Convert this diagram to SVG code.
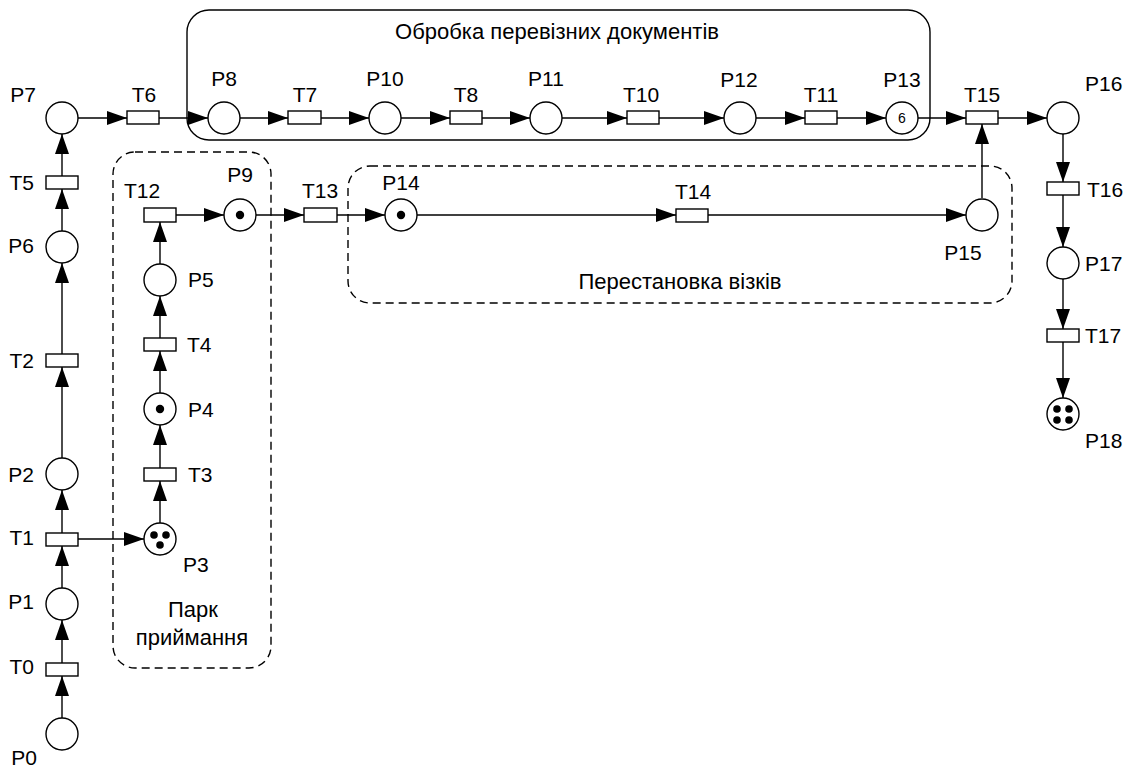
<svg xmlns="http://www.w3.org/2000/svg" width="1130" height="769" viewBox="0 0 1130 769">
<defs>
<marker id="ah" markerWidth="20" markerHeight="14" refX="20" refY="7" orient="auto" markerUnits="userSpaceOnUse">
<path d="M0,0 L20,7 L0,14 Z" fill="#000"/>
</marker>
</defs>
<style>
.pl{fill:#fff;stroke:#000;stroke-width:1.4}
.tr{fill:#fff;stroke:#000;stroke-width:1.4}
.tk{fill:#000}
.e{stroke:#000;stroke-width:1.4;fill:none;marker-end:url(#ah)}
.bx{fill:none;stroke:#000;stroke-width:1.4}
.dbx{fill:none;stroke:#000;stroke-width:1.4;stroke-dasharray:8 5}
text{font-family:"Liberation Sans",Arial,sans-serif;font-size:21px;fill:#000}
.big{font-size:22px}
.m{text-anchor:middle}
.r{text-anchor:end}
</style>
<rect width="1130" height="769" fill="#fff"/>
<g id="groups">
<rect id="box-docs" class="bx" x="187" y="10" width="743" height="130" rx="22"/>
<text class="m big" x="557" y="39">Обробка перевізних документів</text>
<rect id="box-park" class="dbx" x="113" y="152" width="158" height="516" rx="22"/>
<text class="m big" x="193" y="617">Парк</text>
<text class="m big" x="192" y="645">приймання</text>
<rect id="box-swap" class="dbx" x="348" y="166" width="664" height="137" rx="22"/>
<text class="m big" x="680" y="289">Перестановка візків</text>
</g>
<g id="connectors">
<line class="e" x1="62" y1="718" x2="62" y2="676"/>
<line class="e" x1="62" y1="663" x2="62" y2="620"/>
<line class="e" x1="62" y1="588" x2="62" y2="546"/>
<line class="e" x1="62" y1="533" x2="62" y2="490"/>
<line class="e" x1="78" y1="539" x2="144" y2="539"/>
<line class="e" x1="62" y1="458" x2="62" y2="367"/>
<line class="e" x1="62" y1="354" x2="62" y2="263"/>
<line class="e" x1="62" y1="231" x2="62" y2="189"/>
<line class="e" x1="62" y1="176" x2="62" y2="134"/>
<line class="e" x1="78" y1="118" x2="127" y2="118"/>
<line class="e" x1="159" y1="118" x2="208" y2="118"/>
<line class="e" x1="240" y1="118" x2="288" y2="118"/>
<line class="e" x1="321" y1="118" x2="369" y2="118"/>
<line class="e" x1="401" y1="118" x2="450" y2="118"/>
<line class="e" x1="482" y1="118" x2="530" y2="118"/>
<line class="e" x1="562" y1="118" x2="627" y2="118"/>
<line class="e" x1="659" y1="118" x2="724" y2="118"/>
<line class="e" x1="756" y1="118" x2="805" y2="118"/>
<line class="e" x1="837" y1="118" x2="886" y2="118"/>
<line class="e" x1="918" y1="118" x2="966" y2="118"/>
<line class="e" x1="998" y1="118" x2="1047" y2="118"/>
<line class="e" x1="982" y1="198" x2="982" y2="124"/>
<line class="e" x1="160" y1="523" x2="160" y2="481"/>
<line class="e" x1="160" y1="468" x2="160" y2="425"/>
<line class="e" x1="160" y1="393" x2="160" y2="351"/>
<line class="e" x1="160" y1="338" x2="160" y2="296"/>
<line class="e" x1="160" y1="264" x2="160" y2="222"/>
<line class="e" x1="176" y1="215" x2="224" y2="215"/>
<line class="e" x1="256" y1="215" x2="304" y2="215"/>
<line class="e" x1="337" y1="215" x2="385" y2="215"/>
<line class="e" x1="417" y1="215" x2="676" y2="215"/>
<line class="e" x1="708" y1="215" x2="966" y2="215"/>
<line class="e" x1="1063" y1="134" x2="1063" y2="182"/>
<line class="e" x1="1063" y1="195" x2="1063" y2="247"/>
<line class="e" x1="1063" y1="279" x2="1063" y2="329"/>
<line class="e" x1="1063" y1="342" x2="1063" y2="398"/>
</g>
<g id="P0"><circle class="pl" cx="62" cy="734" r="16"/><text class="r" x="37" y="765">P0</text></g>
<g id="T0"><rect class="tr" x="46" y="663" width="32" height="13"/><text class="r" x="34" y="674">T0</text></g>
<g id="P1"><circle class="pl" cx="62" cy="604" r="16"/><text class="r" x="34" y="609">P1</text></g>
<g id="T1"><rect class="tr" x="46" y="533" width="32" height="13"/><text class="r" x="34" y="545">T1</text></g>
<g id="P2"><circle class="pl" cx="62" cy="474" r="16"/><text class="r" x="34" y="482">P2</text></g>
<g id="T2"><rect class="tr" x="46" y="354" width="32" height="13"/><text class="r" x="34" y="368">T2</text></g>
<g id="P6"><circle class="pl" cx="62" cy="247" r="16"/><text class="r" x="34" y="253">P6</text></g>
<g id="T5"><rect class="tr" x="46" y="176" width="32" height="13"/><text class="r" x="34" y="190">T5</text></g>
<g id="P7"><circle class="pl" cx="62" cy="118" r="16"/><text class="r" x="36" y="102">P7</text></g>
<g id="T6"><rect class="tr" x="127" y="111" width="32" height="13"/><text class="m" x="144" y="102">T6</text></g>
<g id="P8"><circle class="pl" cx="224" cy="118" r="16"/><text class="m" x="224" y="86">P8</text></g>
<g id="T7"><rect class="tr" x="288" y="111" width="33" height="13"/><text class="m" x="305" y="102">T7</text></g>
<g id="P10"><circle class="pl" cx="385" cy="118" r="16"/><text class="m" x="385" y="86">P10</text></g>
<g id="T8"><rect class="tr" x="450" y="111" width="32" height="13"/><text class="m" x="466" y="102">T8</text></g>
<g id="P11"><circle class="pl" cx="546" cy="118" r="16"/><text class="m" x="546" y="86">P11</text></g>
<g id="T10"><rect class="tr" x="627" y="111" width="32" height="13"/><text class="m" x="641" y="102">T10</text></g>
<g id="P12"><circle class="pl" cx="740" cy="118" r="16"/><text class="m" x="739" y="87">P12</text></g>
<g id="T11"><rect class="tr" x="805" y="111" width="32" height="13"/><text class="m" x="821" y="102">T11</text></g>
<g id="P13"><circle class="pl" cx="902" cy="118" r="16"/><text class="m" x="902" y="123" style="font-size:14px">6</text><text class="m" x="902" y="87">P13</text></g>
<g id="T15"><rect class="tr" x="966" y="111" width="32" height="13"/><text class="m" x="982" y="102">T15</text></g>
<g id="P16"><circle class="pl" cx="1063" cy="118" r="16"/><text x="1085" y="91">P16</text></g>
<g id="T16"><rect class="tr" x="1047" y="182" width="32" height="13"/><text x="1087" y="197">T16</text></g>
<g id="P17"><circle class="pl" cx="1063" cy="263" r="16"/><text x="1085" y="271">P17</text></g>
<g id="T17"><rect class="tr" x="1047" y="329" width="32" height="13"/><text x="1085" y="343">T17</text></g>
<g id="P18"><circle class="pl" cx="1063" cy="414" r="16"/><circle class="tk" cx="1057" cy="409" r="3.8"/><circle class="tk" cx="1069" cy="409" r="3.8"/><circle class="tk" cx="1057" cy="420" r="3.8"/><circle class="tk" cx="1069" cy="420" r="3.8"/><text x="1085" y="448">P18</text></g>
<g id="P3"><circle class="pl" cx="160" cy="539" r="16"/><circle class="tk" cx="154" cy="535" r="3.8"/><circle class="tk" cx="166" cy="535" r="3.8"/><circle class="tk" cx="160" cy="545" r="3.8"/><text x="183" y="572">P3</text></g>
<g id="T3"><rect class="tr" x="144" y="468" width="32" height="13"/><text x="188" y="482">T3</text></g>
<g id="P4"><circle class="pl" cx="160" cy="409" r="16"/><circle class="tk" cx="160" cy="409" r="4.2"/><text x="188" y="417">P4</text></g>
<g id="T4"><rect class="tr" x="144" y="338" width="32" height="13"/><text x="187" y="352">T4</text></g>
<g id="P5"><circle class="pl" cx="160" cy="280" r="16"/><text x="188" y="287">P5</text></g>
<g id="T12"><rect class="tr" x="144" y="208" width="32" height="14"/><text class="m" x="142" y="198">T12</text></g>
<g id="P9"><circle class="pl" cx="240" cy="215" r="16"/><circle class="tk" cx="240" cy="215" r="4.2"/><text class="m" x="240" y="182">P9</text></g>
<g id="T13"><rect class="tr" x="304" y="208" width="33" height="14"/><text class="m" x="320" y="198">T13</text></g>
<g id="P14"><circle class="pl" cx="401" cy="215" r="16"/><circle class="tk" cx="401" cy="215" r="4.2"/><text class="m" x="401" y="190">P14</text></g>
<g id="T14"><rect class="tr" x="676" y="209" width="32" height="13"/><text class="m" x="693" y="199">T14</text></g>
<g id="P15"><circle class="pl" cx="982" cy="215" r="16"/><text class="m" x="963" y="260">P15</text></g>
</svg>
